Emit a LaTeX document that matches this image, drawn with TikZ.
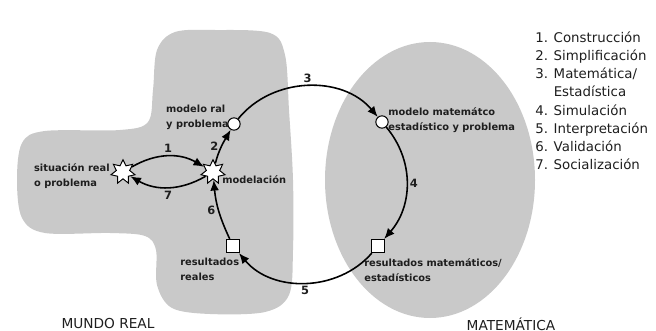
\documentclass[tikz,border=0pt]{standalone}
\usepackage{fontspec}
\setmainfont{DejaVu Sans}
\usetikzlibrary{arrows.meta,shapes.geometric}
\definecolor{zona}{RGB}{201,201,201}
\definecolor{tinta}{RGB}{30,30,30}

\begin{document}
\begin{tikzpicture}[x=0.02cm,y=-0.02cm,>={Latex[length=6pt,width=5pt]},
  estrella/.style={star,star points=7,star point ratio=1.8,draw,fill=white,line width=0.55pt,minimum size=14pt,inner sep=0pt},
  circulo/.style={circle,draw,fill=white,line width=0.6pt,minimum size=7pt,inner sep=0pt},
  cuadro/.style={rectangle,draw,fill=white,line width=0.6pt,minimum size=7.5pt,inner sep=0pt},
  txt/.style={font=\fontsize{5.6}{8.4}\bfseries\selectfont,align=left,inner sep=0pt,text=tinta},
  num/.style={font=\fontsize{6.5}{7}\bfseries\selectfont,inner sep=1.5pt,text=tinta},
  zonatxt/.style={font=\fontsize{7.8}{9}\selectfont,inner sep=0pt,text=tinta},
  flecha/.style={->,line width=0.9pt}]
\useasboundingbox (0,0) rectangle (656,331);
% zonas
\fill[zona] plot[smooth cycle,tension=0.55] coordinates {(215,30) (270,33) (285,55) (289,110) (293,180) (293,250) (289,295) (265,312) (210,314) (172,308) (157,285) (156,250) (145,236) (110,233) (45,233) (22,218) (17,180) (22,143) (45,131) (120,130) (148,122) (153,90) (157,50) (175,32)};
\fill[zona] (430,180) ellipse [x radius=105,y radius=138];
\node[zonatxt] (mundo) at (108,324) {MUNDO REAL};
\node[zonatxt] (mate) at (511,324) {MATEMÁTICA};
% nodos
\node[estrella] (sit) at (123,172) {};
\node[estrella] (mod) at (213,172) {};
\node[circulo] (mreal) at (234,124) {};
\node[circulo] (mmat) at (382,122) {};
\node[cuadro] (rmat) at (378,246) {};
\node[cuadro] (rreal) at (233,246) {};
\node[txt,anchor=east] (tsit) at (110,176) {situación real\\o problema};
\node[txt,anchor=west] (tmod) at (222,180) {modelación};
\node[txt,anchor=east] (tmreal) at (229,117) {modelo ral\\y problema};
\node[txt,anchor=west] (tmmat) at (388,120) {modelo matemátco\\estadístico y problema};
\node[txt,anchor=west] (trmat) at (364,270) {resultados matemáticos/\\estadísticos};
\node[txt,anchor=west] (trreal) at (180,269) {resultados\\reales};
% flechas
\draw[flecha] (sit) to[out=30,in=150] node[num,above] {1} (mod);
\draw[flecha] (mod) to[out=-150,in=-30] node[num,below] {7} (sit);
\draw[flecha] (mod) to[out=75,in=-120] node[num,left] {2} (mreal);
\draw[flecha] (mreal) to[out=51,in=130] node[num,above] {3} (mmat);
\draw[flecha] (mmat) to[out=-50,in=49] node[num,right] {4} (rmat);
\draw[flecha] (rmat) to[out=-131,in=-50] node[num,below] {5} (rreal);
\draw[flecha] (rreal) to[out=115,in=-85] node[num,left] {6} (mod);
% lista
\node[font=\fontsize{7.6}{10.4}\selectfont,align=left,anchor=north west,inner sep=0pt,text=tinta] (lista) at (535,31) {1. Construcción\\2. Simplificación\\3. Matemática/\\\hphantom{3. }Estadística\\4. Simulación\\5. Interpretación\\6. Validación\\7. Socialización};
\end{tikzpicture}
\end{document}
